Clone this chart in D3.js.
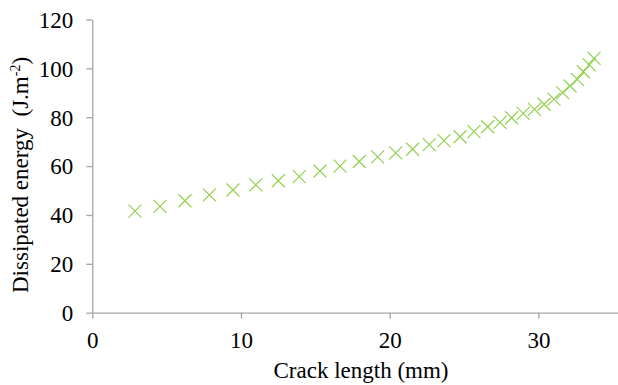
<!DOCTYPE html>
<html>
<head>
<meta charset="utf-8">
<script src="https://cdn.jsdelivr.net/npm/d3@7"></script>
<style>
  html, body { margin: 0; padding: 0; background: #fff; }
  svg { display: block; }
</style>
</head>
<body>
<svg id="chart" width="618" height="385"></svg>
<script>
const crackLength = [2.87, 4.55, 6.23, 7.87, 9.46, 10.99, 12.51, 13.92, 15.31, 16.66, 17.95, 19.19, 20.40, 21.54, 22.66, 23.65, 24.73, 25.67, 26.59, 27.42, 28.20, 28.98, 29.73, 30.38, 31.05, 31.63, 32.13, 32.62, 33.02, 33.42, 33.74];
const dissipatedEnergy = [41.6, 43.5, 45.8, 48.2, 50.2, 52.3, 54.0, 55.7, 58.0, 60.0, 61.9, 63.8, 65.4, 66.9, 68.8, 70.4, 72.0, 74.1, 76.1, 77.9, 79.8, 81.6, 83.2, 85.3, 87.4, 90.1, 92.8, 95.5, 98.6, 101.4, 104.1];
const xTicks = [0, 10, 20, 30];
const yTicks = [0, 20, 40, 60, 80, 100, 120];
const xTitle = "Crack length (mm)";
const yTitle = "Dissipated energy\u00a0\u00a0(J.m";
const yTitleSup = "-2";

const FONT = '"Liberation Serif", "Times New Roman", Times, "DejaVu Serif", serif';
const FS = 23;

const svg = d3.select("#chart").style("font-family", FONT);
const x = d3.scaleLinear().domain([0, 36]).range([92.3, 92.3 + 36 * 14.87]);
const y = d3.scaleLinear().domain([0, 120]).range([312.7, 19.5]);

const axisColor = "#a6a6a6";

const gx = svg.append("g").attr("transform", `translate(0,${y(0)})`)
  .call(d3.axisBottom(x).tickValues(xTicks).tickSize(6).tickSizeOuter(0).tickFormat(d3.format("d")));
const gy = svg.append("g").attr("transform", `translate(${x(0)},0)`)
  .call(d3.axisLeft(y).tickValues(yTicks).tickSize(6).tickSizeOuter(0).tickFormat(d3.format("d")));

[gx, gy].forEach(g => {
  g.attr("font-family", null).attr("font-size", null);
  g.selectAll("path.domain").attr("stroke", axisColor).attr("stroke-width", 1.3);
  g.selectAll(".tick line").attr("stroke", axisColor).attr("stroke-width", 1.3);
  g.selectAll(".tick text").style("font-family", FONT).style("font-size", FS + "px").attr("fill", "#000");
});
gx.selectAll(".tick text").attr("dy", null).attr("y", 348 - y(0));
gy.selectAll(".tick text").attr("x", -19).attr("dy", "0.34em").attr("text-anchor", "end");

// markers
const s = 6.5;
const pts = crackLength.map((c, i) => [x(c), y(dissipatedEnergy[i])]);
svg.append("g").selectAll("path").data(pts).join("path")
  .attr("d", d => `M${d[0]-s},${d[1]-s}L${d[0]+s},${d[1]+s}M${d[0]-s},${d[1]+s}L${d[0]+s},${d[1]-s}`)
  .attr("stroke", "#92d050").attr("stroke-width", 1.2).attr("fill", "none");

svg.append("text").attr("x", 361).attr("y", 378).attr("text-anchor", "middle")
  .style("font-family", FONT).style("font-size", FS + "px").text(xTitle);

const yt = svg.append("text").attr("transform", `translate(28,293) rotate(-90)`)
  .attr("text-anchor", "start").style("font-family", FONT).style("font-size", FS + "px")
  .style("white-space", "pre");
yt.append("tspan").text(yTitle);
yt.append("tspan").style("font-size", "14px").attr("dy", "-0.6em").text(yTitleSup);
yt.append("tspan").attr("dy", "0.38em").text(")");
</script>
</body>
</html>
